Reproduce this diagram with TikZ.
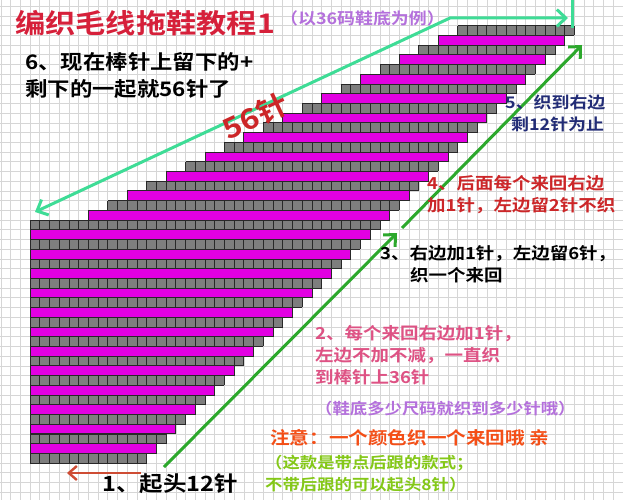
\documentclass[tikz,border=0pt]{standalone}
\usepackage{fontspec}
\newfontfamily\cjk{Noto Sans CJK SC}[BoldFont={Noto Sans CJK SC Bold},FakeStretch=1.12]
\usetikzlibrary{arrows.meta}
\definecolor{gridc}{RGB}{214,214,214}
\definecolor{cellgray}{RGB}{126,126,126}
\definecolor{cellline}{RGB}{40,40,40}
\definecolor{mag}{RGB}{226,0,226}
\definecolor{titlered}{RGB}{214,32,58}
\definecolor{lilac}{RGB}{180,112,220}
\definecolor{navy}{RGB}{34,44,118}
\definecolor{redt}{RGB}{204,38,40}
\definecolor{pinkt}{RGB}{222,82,132}
\definecolor{oranget}{RGB}{244,78,22}
\definecolor{limet}{RGB}{132,200,24}
\definecolor{mint}{RGB}{62,220,150}
\definecolor{greenar}{RGB}{44,168,44}
\definecolor{redar}{RGB}{206,76,52}
\begin{document}
\begin{tikzpicture}[x=1pt,y=-1pt,
  bggrid/.style={draw=gridc,line width=0.6pt},
  grayrow/.style={fill=cellgray},
  celllines/.style={draw=cellline,line width=0.7pt},
  magrow/.style={fill=mag,draw=cellline,line width=0.7pt},
  txt/.style={inner sep=0pt,anchor=base west,font=\cjk\bfseries},
  mintarrow/.style={draw=mint,line width=3pt},
  greenarrow/.style={draw=greenar,line width=3pt,-{Straight Barb[length=9pt,width=17pt]}},
  redarrow/.style={draw=redar,line width=2.4pt,-{Straight Barb[length=8pt,width=14pt]}}
]
\useasboundingbox (0,0) rectangle (623,500);
\clip (0,0) rectangle (623,500);
\fill[white] (0,0) rectangle (623,500);
\begin{scope}[shift={(30pt,-463pt)},x=9.72pt,y=9.72pt]
  \draw[bggrid,step=1] (-4,-4) grid (62,49);
  \foreach \r in {0,...,44}{
    \pgfmathtruncatemacro\L{\r<25 ? 0 : 6+2*(\r-25)}
    \pgfmathtruncatemacro\R{12+\r}
    \pgfmathtruncatemacro\odd{mod(\r,2)}
    \ifnum\odd=1
      \draw[magrow] (\L,\r) rectangle (\R,\r+1);
    \else
      \fill[grayrow] (\L,\r) rectangle (\R,\r+1);
      \draw[celllines,step=1] (\L,\r) grid (\R,\r+1);
    \fi
  }
\end{scope}

% arrows
\coordinate (mA) at (35,212);
\coordinate (mB) at (450,18);
\coordinate (mC) at (568,18);
\coordinate (tk1) at (572,0);
\coordinate (tk2) at (572,28);
\draw[mintarrow,{Straight Barb[length=9pt,width=17pt]}-{Straight Barb[length=9pt,width=17pt]}] (mA) -- (mB) -- (mC);
\draw[mintarrow] (tk1) -- (tk2);

\coordinate (gA) at (164,467);
\coordinate (gB) at (397,233);
\coordinate (gC) at (402,228);
\coordinate (gD) at (582,45);
\draw[greenarrow] (gA) -- (gB);
\draw[greenarrow] (gC) -- (gD);

\coordinate (rA) at (141,473);
\coordinate (rB) at (67,473);
\draw[redarrow] (rA) -- (rB);

% texts
\node[txt,text=titlered,font=\cjk\bfseries\fontsize{27}{30}\selectfont] (title) at (15,34) {编织毛线拖鞋教程1};
\node[txt,text=lilac,font=\cjk\bfseries\fontsize{16}{19}\selectfont] (sub) at (280,25) {（以36码鞋底为例）};
\node[txt,text=black,font=\cjk\bfseries\fontsize{20}{24}\selectfont] (s6a) at (25,70) {6、现在棒针上留下的+};
\node[txt,text=black,font=\cjk\bfseries\fontsize{20}{24}\selectfont] (s6b) at (25,97) {剩下的一起就56针了};
\node[inner sep=0pt,text=redt,font=\cjk\bfseries\fontsize{28}{32}\selectfont,rotate=25] (n56) at (255,116) {56针};
\node[txt,text=navy,font=\cjk\bfseries\fontsize{16}{19}\selectfont] (s5a) at (505,109) {5、织到右边};
\node[txt,text=navy,font=\cjk\bfseries\fontsize{16}{19}\selectfont] (s5b) at (511,131) {剩12针为止};
\node[txt,text=redt,font=\cjk\bfseries\fontsize{16.5}{19}\selectfont] (s4a) at (427,189) {4、后面每个来回右边};
\node[txt,text=redt,font=\cjk\bfseries\fontsize{16.5}{19}\selectfont] (s4b) at (427,211) {加1针，左边留2针不织};
\node[txt,text=black,font=\cjk\bfseries\fontsize{16.5}{19}\selectfont] (s3a) at (380,259) {3、右边加1针，左边留6针，};
\node[txt,text=black,font=\cjk\bfseries\fontsize{16.5}{19}\selectfont] (s3b) at (410,281) {织一个来回};
\node[txt,text=pinkt,font=\cjk\bfseries\fontsize{16.5}{19}\selectfont] (s2a) at (315,339) {2、每个来回右边加1针，};
\node[txt,text=pinkt,font=\cjk\bfseries\fontsize{16.5}{19}\selectfont] (s2b) at (315,361) {左边不加不减，一直织};
\node[txt,text=pinkt,font=\cjk\bfseries\fontsize{16.5}{19}\selectfont] (s2c) at (315,383) {到棒针上36针};
\node[txt,text=lilac,font=\cjk\bfseries\fontsize{15.5}{19}\selectfont] (note1) at (315,414) {（鞋底多少尺码就织到多少针哦）};
\node[txt,text=oranget,font=\cjk\bfseries\fontsize{17.5}{20}\selectfont] (note2) at (270,444) {注意：一个颜色织一个来回哦 亲};
\node[txt,text=limet,font=\cjk\bfseries\fontsize{15.5}{19}\selectfont] (note3) at (265,468) {（这款是带点后跟的款式；};
\node[txt,text=limet,font=\cjk\bfseries\fontsize{15.5}{19}\selectfont] (note4) at (265,490) {不带后跟的可以起头8针）};
\node[txt,text=black,font=\cjk\bfseries\fontsize{21}{24}\selectfont] (s1) at (102,491) {1、起头12针};
\end{tikzpicture}
\end{document}
